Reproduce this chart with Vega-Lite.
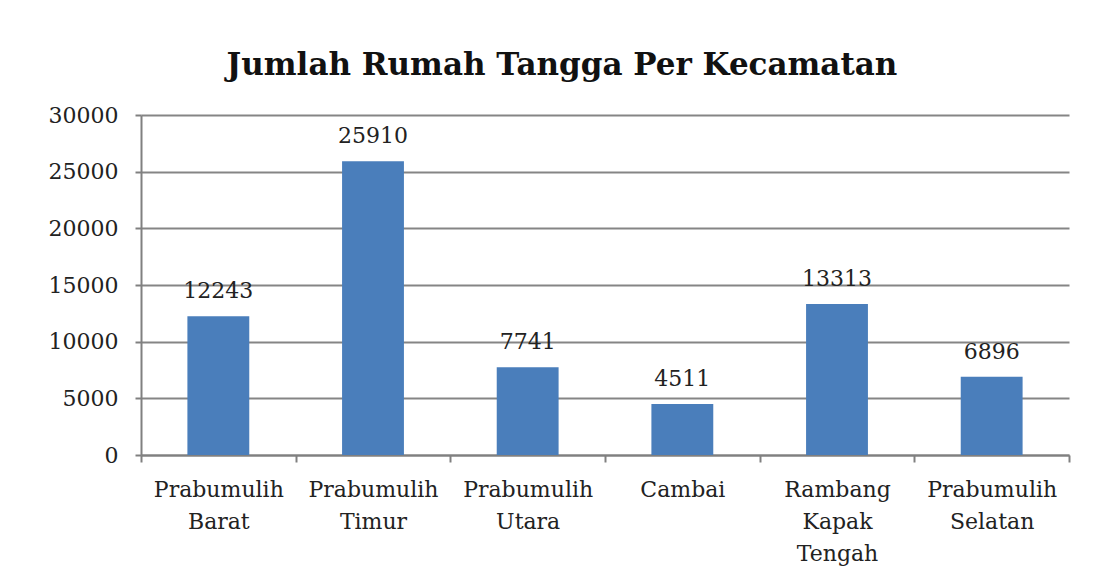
{
  "$schema": "https://vega.github.io/schema/vega-lite/v6.json",
  "autosize": {"type": "none"},
  "width": 928,
  "height": 340,
  "padding": {"left": 141, "top": 115, "right": 41, "bottom": 123},
  "background": "white",
  "title": {
    "text": "Jumlah Rumah Tangga Per Kecamatan",
    "font": "DejaVu Serif",
    "fontSize": 31,
    "fontWeight": "bold",
    "color": "#111111",
    "anchor": "middle",
    "dx": -43,
    "offset": 22
  },
  "data": {
    "values": [
      {"kecamatan": "Prabumulih Barat", "jumlah": 12243},
      {"kecamatan": "Prabumulih Timur", "jumlah": 25910},
      {"kecamatan": "Prabumulih Utara", "jumlah": 7741},
      {"kecamatan": "Cambai", "jumlah": 4511},
      {"kecamatan": "Rambang Kapak Tengah", "jumlah": 13313},
      {"kecamatan": "Prabumulih Selatan", "jumlah": 6896}
    ]
  },
  "encoding": {
    "x": {
      "field": "kecamatan",
      "type": "nominal",
      "sort": null,
      "title": null,
      "scale": {"paddingInner": 0, "paddingOuter": 0},
      "axis": {
        "labelAngle": 0,
        "labelExpr": "split(datum.label, ' ')",
        "labelFont": "DejaVu Serif",
        "labelFontSize": 22,
        "labelColor": "#222222",
        "labelLineHeight": 32,
        "labelPadding": 17,
        "tickBand": "extent",
        "tickSize": 7,
        "tickWidth": 2,
        "tickColor": "#808080",
        "domainColor": "#808080",
        "domainWidth": 2,
        "grid": false
      }
    },
    "y": {
      "field": "jumlah",
      "type": "quantitative",
      "title": null,
      "scale": {"domain": [0, 30000]},
      "axis": {
        "values": [0, 5000, 10000, 15000, 20000, 25000, 30000],
        "format": "d",
        "labelFont": "DejaVu Serif",
        "labelFontSize": 22,
        "labelColor": "#222222",
        "labelPadding": 17,
        "tickSize": 6,
        "tickWidth": 2,
        "tickColor": "#808080",
        "domainColor": "#808080",
        "domainWidth": 2,
        "grid": true,
        "gridColor": "#858585",
        "gridWidth": 2
      }
    }
  },
  "layer": [
    {"mark": {"type": "bar", "color": "#4a7ebb", "width": {"band": 0.4}}},
    {
      "mark": {
        "type": "text",
        "baseline": "bottom",
        "dy": -13,
        "font": "DejaVu Serif",
        "fontSize": 22,
        "color": "#222222"
      },
      "encoding": {"text": {"field": "jumlah", "type": "quantitative", "format": "d"}}
    }
  ],
  "config": {"view": {"stroke": null}}
}
